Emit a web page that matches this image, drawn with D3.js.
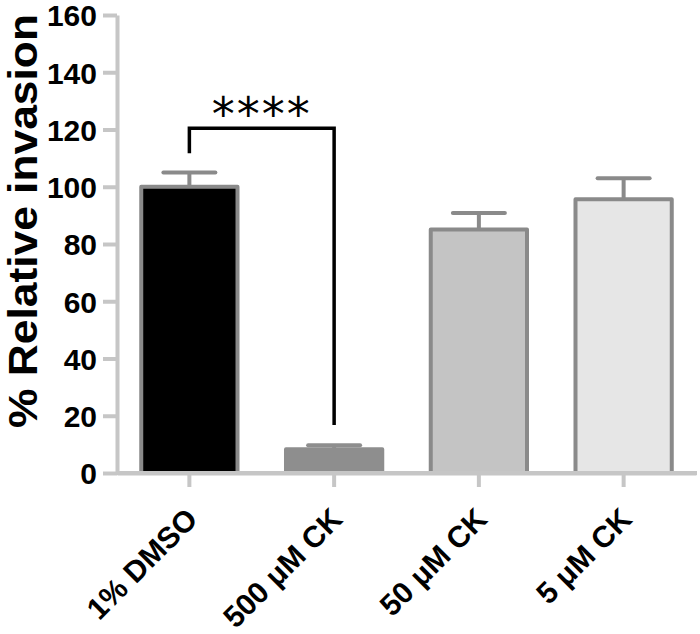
<!DOCTYPE html>
<html>
<head>
<meta charset="utf-8">
<script src="https://cdn.jsdelivr.net/npm/d3@7"></script>
<style>
  html, body { margin: 0; padding: 0; background: #fff; }
  svg { display: block; }
</style>
</head>
<body>
<svg id="chart" width="700" height="634"></svg>
<script>
// ---- data ----
const categories = ["1% DMSO", "500 \u03BCM CK", "50 \u03BCM CK", "5 \u03BCM CK"];
const values = [100, 8.3, 85.1, 95.6];
const errors = [5, 1.4, 5.7, 7.4];
const fills = ["#000000", "#8e8e8e", "#c4c4c4", "#e6e6e6"];
const strokes = ["#8a8a8a", "#8e8e8e", "#8a8a8a", "#8a8a8a"];
const yTicks = [0, 20, 40, 60, 80, 100, 120, 140, 160];
const yLabel = "% Relative invasion";
// significance bracket: between category 0 and 1
const sigFrom = 0, sigTo = 1;
const sigTop = 120.4, sigLeftEnd = 111.7, sigRightEnd = 16.8;
const sigLabel = "****";

// ---- layout ----
const svg = d3.select("#chart");
const axisColor = "#c6c6c6";
const x = d3.scaleBand().domain(categories).range([117, 696])
  .paddingInner(0.335).paddingOuter(0.1675);
const y = d3.scaleLinear().domain([0, 160]).range([473, 15]);

// Y axis
const yAxis = svg.append("g").attr("transform", "translate(117,0)")
  .call(d3.axisLeft(y).tickValues(yTicks).tickSize(14).tickSizeOuter(0).tickPadding(6));
yAxis.select(".domain").attr("stroke", axisColor).attr("stroke-width", 4);
yAxis.selectAll(".tick line").attr("stroke", axisColor).attr("stroke-width", 4);
yAxis.selectAll(".tick text")
  .attr("font-family", "Liberation Sans, Arial, sans-serif")
  .attr("font-weight", "bold").attr("font-size", 30).attr("fill", "#000")
  .attr("dy", "0.36em");

// X axis
const xAxis = svg.append("g").attr("transform", "translate(0,473)")
  .call(d3.axisBottom(x).tickSize(14).tickSizeOuter(0).tickFormat(""));
xAxis.select(".domain").attr("stroke", axisColor).attr("stroke-width", 4);
xAxis.selectAll(".tick line").attr("stroke", axisColor).attr("stroke-width", 4);
xAxis.selectAll(".tick").append("text")
  .attr("transform", "translate(10,48) rotate(-45)")
  .attr("text-anchor", "end")
  .attr("font-family", "Liberation Sans, Arial, sans-serif")
  .attr("font-weight", "bold").attr("font-size", 30).attr("fill", "#000")
  .text(d => d);

// Error bars
const eg = svg.append("g");
categories.forEach((c, i) => {
  const cx = x(c) + x.bandwidth() / 2;
  eg.append("line").attr("x1", cx).attr("x2", cx)
    .attr("y1", y(values[i])).attr("y2", y(values[i] + errors[i]))
    .attr("stroke", strokes[i]).attr("stroke-width", 4);
  eg.append("line").attr("x1", cx - 26).attr("x2", cx + 26)
    .attr("y1", y(values[i] + errors[i])).attr("y2", y(values[i] + errors[i]))
    .attr("stroke", strokes[i]).attr("stroke-width", 4).attr("stroke-linecap", "round");
});

// Bars
svg.append("g").selectAll("rect").data(categories).join("rect")
  .attr("x", d => x(d))
  .attr("width", x.bandwidth())
  .attr("y", (d, i) => y(values[i]))
  .attr("height", (d, i) => y(0) - y(values[i]))
  .attr("fill", (d, i) => fills[i])
  .attr("stroke", (d, i) => strokes[i])
  .attr("stroke-width", 4)
  .attr("stroke-linejoin", "round");

// Redraw x-axis baseline on top of bar bottoms
svg.append("line").attr("x1", 117).attr("x2", 697).attr("y1", 473).attr("y2", 473)
  .attr("stroke", axisColor).attr("stroke-width", 4);

// Significance bracket
const xa = x(categories[sigFrom]) + x.bandwidth() / 2;
const xb = x(categories[sigTo]) + x.bandwidth() / 2;
svg.append("path")
  .attr("d", `M${xa},${y(sigLeftEnd)} L${xa},${y(sigTop)} L${xb},${y(sigTop)} L${xb},${y(sigRightEnd)}`)
  .attr("fill", "none").attr("stroke", "#000").attr("stroke-width", 3.5);
svg.append("text")
  .attr("x", (xa + xb) / 2).attr("y", 130)
  .attr("text-anchor", "middle")
  .attr("font-family", "DejaVu Sans, sans-serif")
  .attr("font-size", 46).attr("letter-spacing", 2).attr("fill", "#000")
  .text(sigLabel);

// Y label
svg.append("text")
  .attr("transform", "translate(37,221) rotate(-90)")
  .attr("text-anchor", "middle")
  .attr("font-family", "Liberation Sans, Arial, sans-serif")
  .attr("font-weight", "bold").attr("font-size", 40).attr("fill", "#000")
  .attr("textLength", 414).attr("lengthAdjust", "spacingAndGlyphs")
  .text(yLabel);
</script>
</body>
</html>
